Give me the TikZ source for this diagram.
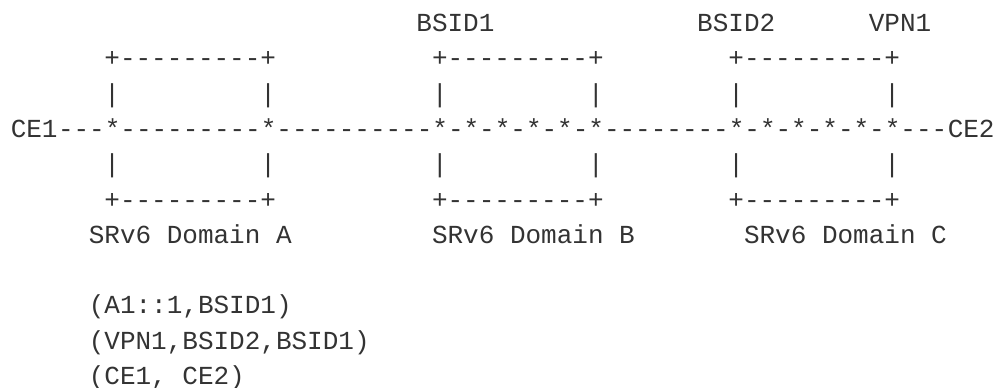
\documentclass[tikz,border=0pt]{standalone}
\usepackage{fontspec}
\setmonofont{Liberation Mono}
\usepackage{tikz}
\definecolor{asciigray}{HTML}{333333}
\tikzstyle{ascii} = [font=\ttfamily\fontsize{26}{30}\selectfont, text=asciigray, inner sep=0pt, anchor=base west]

\begin{document}
% one unit = one character cell
\begin{tikzpicture}[x=15.6pt, y=-35.3pt]
		\useasboundingbox (-10.6pt,31.5pt) rectangle (982.4pt,-356.5pt);

		% binding SIDs on top
		\node (bsid1) [ascii] at (26,0) {BSID1};
		\node (bsid2) [ascii] at (44,0) {BSID2};
		\node (vpn1) [ascii] at (55,0) {VPN1};

		% domain boxes
		\foreach \c/\n in {6/a,27/b,46/c} {
			\node (top\n) [ascii] at (\c,1) {+---------+};
			\node (bot\n) [ascii] at (\c,5) {+---------+};
		}
		\foreach \c/\n in {6/a1,16/a2,27/b1,37/b2,46/c1,56/c2} {
			\node (up\n) [ascii] at (\c,2) {|};
			\node (dn\n) [ascii] at (\c,4) {|};
		}

		% path from CE1 to CE2
		\node (ce1) [ascii] at (0,3) {CE1};
		\node (link) [ascii] at (ce1.base east) {---*---------*----------*-*-*-*-*-*--------*-*-*-*-*-*---};
		\node (ce2) [ascii] at (link.base east) {CE2};

		\node (doma) [ascii] at (5,6) {SRv6 Domain A};
		\node (domb) [ascii] at (27,6) {SRv6 Domain B};
		\node (domc) [ascii] at (47,6) {SRv6 Domain C};

		% segment lists
		\node (sid1) [ascii] at (5,8) {(A1::1,BSID1)};
		\node (sid2) [ascii] at (5,9) {(VPN1,BSID2,BSID1)};
		\node (sid3) [ascii] at (5,10) {(CE1, CE2)};
\end{tikzpicture}
\end{document}
